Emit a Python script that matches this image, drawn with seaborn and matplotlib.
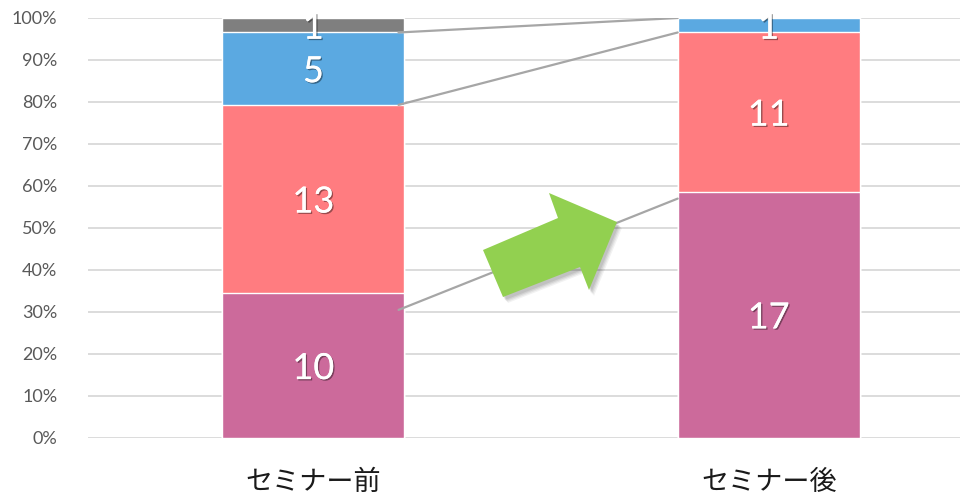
import numpy as np
import pandas as pd
import matplotlib
matplotlib.use("Agg")
import matplotlib.pyplot as plt
import matplotlib.patheffects as pe
from matplotlib.patches import Polygon
import seaborn as sns

# Survey counts before / after the seminar, stacked bottom to top
categories = ["セミナー前", "セミナー後"]
series_names = ["A", "B", "C", "D"]
series_values = {
    "A": [10, 17],
    "B": [13, 11],
    "C": [5, 1],
    "D": [1, 0],
}
series_colors = {
    "A": "#CC6A9B",
    "B": "#FF7C80",
    "C": "#5BA9E1",
    "D": "#7F7F7F",
}
y_ticks = [0, 10, 20, 30, 40, 50, 60, 70, 80, 90, 100]

sns.set_theme(style="white")
plt.rcParams["font.family"] = ["Lato", "Noto Sans CJK JP", "DejaVu Sans"]

counts = np.array([series_values[s] for s in series_names], dtype=float)
shares = counts / counts.sum(axis=0) * 100
tops = np.cumsum(shares, axis=0)
bottoms = tops - shares

fig = plt.figure(figsize=(9.6, 4.96), dpi=100)
ax = fig.add_axes([88 / 960, 1 - 438 / 496, 1 - 88 / 960, (438 - 18) / 496])

# gridlines
for t in y_ticks:
    ax.axhline(t, color="#D9D9D9", lw=1.3, zorder=0)

# stacked bars: draw cumulative heights from the top layer down
bar_width = 0.40
for i in reversed(range(len(series_names))):
    df = pd.DataFrame({"cat": categories, "val": tops[i]})
    sns.barplot(data=df, x="cat", y="val", color=series_colors[series_names[i]],
                width=bar_width, saturation=1, ax=ax, zorder=2)

# series lines between the two bars
x0, x1 = 0 + bar_width / 2 - 0.013, 1 - bar_width / 2
for i in (1, 2):
    ax.plot([x0, x1], [tops[i][0], tops[i][1]], color="#A6A6A6", lw=1.6, zorder=3)
# trend guide line under the arrow
ax.plot([x0, x1], [30.5, 57.0], color="#A6A6A6", lw=1.6, zorder=3)

# segment value labels
shadow = [pe.withSimplePatchShadow(offset=(1, -1), shadow_rgbFace="#000000", alpha=0.4),
          pe.Normal()]
for i, s in enumerate(series_names):
    for j in range(len(categories)):
        v = series_values[s][j]
        if v == 0:
            continue
        y = bottoms[i][j] + shares[i][j] / 2
        ax.text(j, y, f"{v}", ha="center", va="center_baseline", color="white",
                fontsize=26, family=["Lato", "DejaVu Sans"], zorder=5,
                path_effects=shadow)

ax.set_xlim(-0.495, 1.42)
ax.set_ylim(0, 100)
ax.set_yticks(y_ticks)
ax.set_yticklabels([f"{t}%" for t in y_ticks], color="#595959", fontsize=13)
ax.tick_params(axis="y", length=0, pad=22)
ax.tick_params(axis="x", length=0, pad=22)
for lbl in ax.get_xticklabels():
    lbl.set_fontsize(19.5)
    lbl.set_color("#1A1A1A")
    lbl.set_family(["Noto Sans CJK JP", "DejaVu Sans"])
ax.set_xlabel("")
ax.set_ylabel("")
for sp in ax.spines.values():
    sp.set_visible(False)

# green arrow drawn in figure pixel coordinates, with a soft drop shadow
arrow_px = [(483, 250), (503, 297), (580, 267), (589, 290), (617, 222),
            (549, 193), (558, 218)]
pts = [(x / 960, 1 - y / 496) for x, y in arrow_px]
for k, a in [(5, 0.05), (4, 0.06), (3, 0.07), (2, 0.08)]:
    sp_pts = [(x + k / 960, y - (k + 1) / 496) for x, y in pts]
    fig.patches.append(Polygon(sp_pts, closed=True, transform=fig.transFigure,
                               facecolor="#000000", alpha=a, edgecolor="none",
                               zorder=6))
fig.patches.append(Polygon(pts, closed=True, transform=fig.transFigure,
                           facecolor="#92D050", edgecolor="none", zorder=7))

fig.savefig("out.png", dpi=100)
